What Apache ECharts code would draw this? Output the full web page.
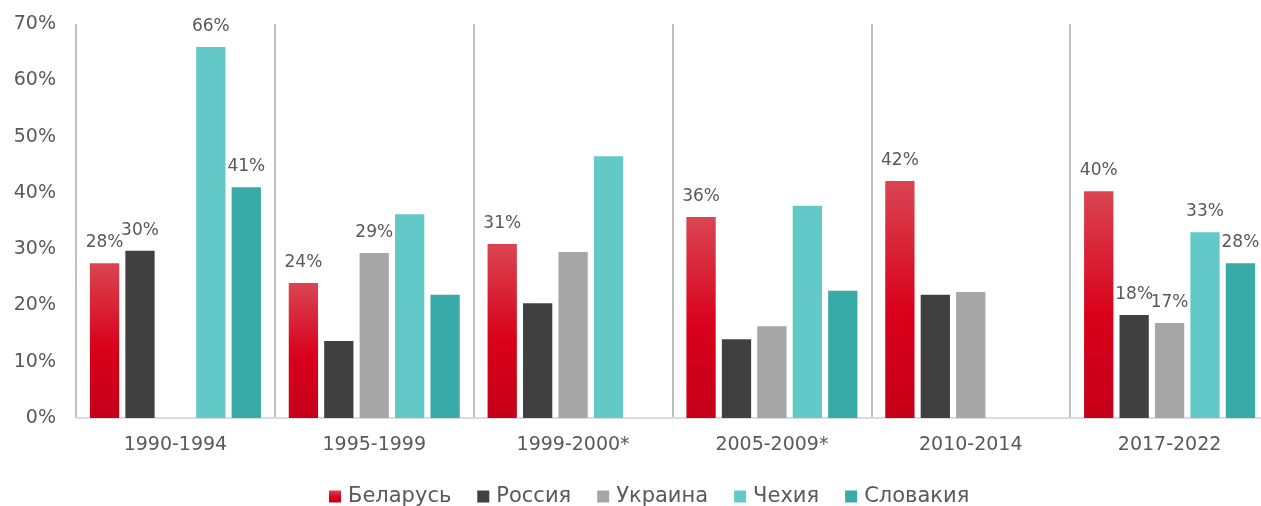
<!DOCTYPE html>
<html>
<head>
<meta charset="utf-8">
<script src="https://cdn.jsdelivr.net/npm/echarts@6/dist/echarts.min.js"></script>
<style>
html,body{margin:0;padding:0;background:#fff;}
#chart{width:1261px;height:506px;}
</style>
</head>
<body>
<div id="chart"></div>
<script>
const categories = ['1990-1994', '1995-1999', '1999-2000*', '2005-2009*', '2010-2014', '2017-2022'];
const yTicks = ['0%', '10%', '20%', '30%', '40%', '50%', '60%', '70%'];

const seriesNames = ['Беларусь', 'Россия', 'Украина', 'Чехия', 'Словакия'];
const belarus  = [27.5, 24.0, 30.9, 35.7, 42.1, 40.3];
const russia   = [29.7, 13.7, 20.4, 14.0, 21.9, 18.3];
const ukraine  = [null, 29.3, 29.5, 16.3, 22.4, 16.9];
const czechia  = [65.9, 36.2, 46.5, 37.7, null, 33.0];
const slovakia = [41.0, 21.9, null, 22.6, null, 27.5];

// which values carry a printed label in the original
const belarusLabels  = [true, true, true, true, true, true];
const russiaLabels   = [true, false, false, false, false, true];
const ukraineLabels  = [false, true, false, false, false, true];
const czechiaLabels  = [true, false, false, false, false, true];
const slovakiaLabels = [true, false, false, false, false, true];

const FONT = 'DejaVu Sans';
const TXT = '#595959';

const colors = [
  {type:'linear', x:0, y:0, x2:0, y2:1, colorStops:[
    {offset:0, color:'#da4551'}, {offset:0.55, color:'#d9001b'}, {offset:1, color:'#c60019'}]},
  '#404040', '#a6a6a6', '#63c9c8', '#38aaa7'
];

function mk(name, vals, labels, color) {
  return {
    name: name,
    type: 'bar',
    barGap: '21%',
    barCategoryGap: '14%',
    itemStyle: {color: color},
    data: vals.map((v, i) => ({
      value: v,
      label: {show: labels[i] && v != null}
    })),
    label: {
      position: 'top',
      distance: 12,
      color: TXT,
      fontFamily: FONT,
      fontSize: 17,
      formatter: p => Math.round(p.value) + '%'
    }
  };
}

const chart = echarts.init(document.getElementById('chart'));
chart.setOption({
  animation: false,
  color: colors,
  grid: {left: 76, width: 1193, top: 24, height: 394, containLabel: false, outerBoundsMode: 'none'},
  legend: {
    bottom: -6,
    left: 324,
    itemWidth: 12,
    itemHeight: 12,
    itemGap: 26,
    icon: 'rect',
    textStyle: {color: TXT, fontFamily: FONT, fontSize: 21, padding: [0, 0, 0, 2]},
    data: seriesNames
  },
  xAxis: {
    type: 'category',
    data: categories,
    axisTick: {show: false},
    axisLine: {show: true, lineStyle: {color: '#d9dce1', width: 2}},
    axisLabel: {color: TXT, fontFamily: FONT, fontSize: 19, margin: 18},
    splitLine: {show: true, interval: 0, lineStyle: {color: '#bfbfbf', width: 2}}
  },
  yAxis: {
    type: 'value',
    min: 0, max: 70, interval: 10,
    axisLine: {show: false},
    axisTick: {show: false},
    splitLine: {show: false},
    axisLabel: {
      color: TXT, fontFamily: FONT, fontSize: 19, margin: 20,
      formatter: v => yTicks[Math.round(v / 10)]
    }
  },
  series: [
    mk(seriesNames[0], belarus, belarusLabels, colors[0]),
    mk(seriesNames[1], russia, russiaLabels, colors[1]),
    mk(seriesNames[2], ukraine, ukraineLabels, colors[2]),
    mk(seriesNames[3], czechia, czechiaLabels, colors[3]),
    mk(seriesNames[4], slovakia, slovakiaLabels, colors[4])
  ]
});
</script>
</body>
</html>
